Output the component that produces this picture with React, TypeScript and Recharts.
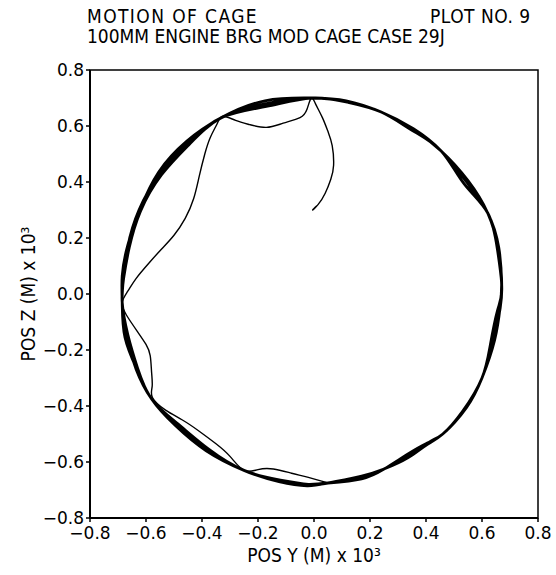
import { LineChart, Line, XAxis, YAxis, ReferenceArea } from "recharts";

const axisTicks = [-0.8, -0.6, -0.4, -0.2, 0, 0.2, 0.4, 0.6, 0.8];

// cage centre, [pos y, pos z] in m x 10^3
// first pass: from the start point up to the top, then round the left side
const startPath: [number, number][] = [
  [0.01, 0.315], [-0.005, 0.3], [0.015, 0.32], [0.04, 0.36], [0.06, 0.41], [0.07, 0.46],
  [0.065, 0.53], [0.05, 0.58], [0.03, 0.63], [0.005, 0.68], [-0.01, 0.7],
  [-0.025, 0.66], [-0.05, 0.63], [-0.11, 0.61], [-0.17, 0.595], [-0.23, 0.605],
  [-0.28, 0.62], [-0.325, 0.635], [-0.345, 0.61], [-0.37, 0.56], [-0.39, 0.5],
  [-0.41, 0.42], [-0.43, 0.34], [-0.46, 0.27], [-0.5, 0.21], [-0.545, 0.16],
  [-0.59, 0.11], [-0.635, 0.056], [-0.665, 0.01], [-0.685, -0.03],
  [-0.67, -0.075], [-0.63, -0.135], [-0.6, -0.18], [-0.585, -0.22], [-0.58, -0.28],
  [-0.578, -0.33], [-0.577, -0.37], [-0.53, -0.415], [-0.47, -0.45], [-0.41, -0.49],
  [-0.35, -0.535], [-0.3, -0.58], [-0.25, -0.63], [-0.2, -0.627], [-0.145, -0.625],
  [-0.08, -0.64], [-0.02, -0.655], [0.05, -0.675],
];

// steady whirl, three turns
const orbit1: [number, number][] = [
  [0.05, -0.675], [0.17, -0.66], [0.25, -0.625], [0.33, -0.575], [0.4, -0.535], [0.46, -0.5],
  [0.54, -0.41], [0.6, -0.3], [0.64, -0.17], [0.665, -0.05], [0.67, 0.04], [0.655, 0.16],
  [0.62, 0.29], [0.535, 0.395], [0.455, 0.51], [0.35, 0.585], [0.24, 0.65], [0.12, 0.685],
  [-0.01, 0.7], [-0.17, 0.67], [-0.33, 0.63], [-0.45, 0.54], [-0.55, 0.43], [-0.625, 0.3],
  [-0.665, 0.17], [-0.68, 0.06], [-0.685, -0.03], [-0.67, -0.15], [-0.635, -0.27],
  [-0.58, -0.375], [-0.49, -0.47], [-0.38, -0.555], [-0.25, -0.63], [-0.12, -0.665],
  [-0.02, -0.68], [0.05, -0.675],
];
const orbit2: [number, number][] = [
  [0.16, -0.655], [0.25, -0.625], [0.34, -0.58], [0.41, -0.53], [0.46, -0.5], [0.53, -0.42],
  [0.6, -0.3], [0.63, -0.18], [0.655, -0.06], [0.67, 0.01], [0.66, 0.15], [0.62, 0.29],
  [0.55, 0.405], [0.455, 0.51], [0.345, 0.595], [0.24, 0.65], [0.115, 0.69], [-0.01, 0.7],
  [-0.175, 0.69], [-0.33, 0.63], [-0.455, 0.545], [-0.555, 0.435], [-0.62, 0.305],
  [-0.665, 0.175], [-0.685, 0.065], [-0.685, -0.03], [-0.675, -0.155], [-0.63, -0.275],
  [-0.58, -0.375], [-0.495, -0.47], [-0.385, -0.56], [-0.25, -0.63], [-0.125, -0.67],
  [-0.025, -0.685], [0.05, -0.675],
];
const orbit3: [number, number][] = [
  [0.17, -0.65], [0.25, -0.625], [0.335, -0.585], [0.4, -0.54], [0.46, -0.5], [0.545, -0.405],
  [0.6, -0.3], [0.645, -0.165], [0.665, -0.045], [0.67, 0.035], [0.66, 0.165], [0.62, 0.29],
  [0.545, 0.4], [0.455, 0.51], [0.355, 0.59], [0.24, 0.65], [0.125, 0.685], [-0.01, 0.7],
  [-0.17, 0.68], [-0.33, 0.63], [-0.445, 0.535], [-0.545, 0.425], [-0.62, 0.295],
  [-0.66, 0.165], [-0.68, 0.055], [-0.685, -0.03], [-0.665, -0.145], [-0.63, -0.265],
  [-0.58, -0.375], [-0.485, -0.465], [-0.375, -0.555], [-0.25, -0.63], [-0.115, -0.67],
  [-0.015, -0.68], [0.05, -0.675],
];

const toRows = (pts: [number, number][]) => pts.map(([y, z]) => ({ y, z }));
const startRows = toRows(startPath);
const orbitRows = toRows([...orbit1, ...orbit2, ...orbit3]);

const font = "'DejaVu Sans', sans-serif";
const titleFont = "'DejaVu Sans Condensed', 'DejaVu Sans', sans-serif";

function fmtTick(v: number): string {
  return v.toFixed(1).replace("-", "\u2212");
}

const titleStyle: React.CSSProperties = {
  position: "absolute",
  fontFamily: titleFont,
  fontSize: 19,
  lineHeight: 1,
  color: "#000",
  whiteSpace: "nowrap",
};

export default function App() {
  return (
    <div style={{ position: "absolute", left: 0, top: 0, width: 556, height: 575, background: "#fff" }}>
      <div style={{ ...titleStyle, left: 87, top: 7, letterSpacing: 1.4 }}>MOTION OF CAGE</div>
      <div style={{ ...titleStyle, left: 430, top: 7, letterSpacing: 0.5 }}>PLOT NO. 9</div>
      <div style={{ ...titleStyle, left: 87, top: 27 }}>100MM ENGINE BRG MOD CAGE CASE 29J</div>
      <LineChart width={556} height={575} margin={{ top: 70, right: 18, bottom: 13, left: 0 }}>
        <XAxis
          type="number"
          dataKey="y"
          domain={[-0.8, 0.8]}
          ticks={axisTicks}
          tickFormatter={fmtTick}
          allowDataOverflow
          height={44}
          tickSize={4}
          tickMargin={5}
          axisLine={{ stroke: "#000", strokeWidth: 2 }}
          tickLine={{ stroke: "#000", strokeWidth: 1.5 }}
          tick={{ fill: "#000", fontSize: 17, fontFamily: font }}
          label={{
            value: "POS Y (M) x 10\u00b3",
            position: "insideBottom",
            offset: 0,
            fill: "#000",
            fontSize: 19,
            fontFamily: titleFont,
          }}
        />
        <YAxis
          type="number"
          dataKey="z"
          domain={[-0.8, 0.8]}
          ticks={axisTicks}
          tickFormatter={fmtTick}
          allowDataOverflow
          width={90}
          tickSize={4}
          axisLine={{ stroke: "#000", strokeWidth: 2 }}
          tickLine={{ stroke: "#000", strokeWidth: 1.5 }}
          tick={{ fill: "#000", fontSize: 17, fontFamily: font }}
          label={{
            value: "POS Z (M) x 10\u00b3",
            angle: -90,
            position: "insideLeft",
            offset: 28,
            fill: "#000",
            fontSize: 19,
            fontFamily: titleFont,
            style: { textAnchor: "middle" },
          }}
        />
        <ReferenceArea
          x1={-0.8}
          x2={0.8}
          y1={-0.8}
          y2={0.8}
          fill="none"
          fillOpacity={0}
          stroke="#000"
          strokeWidth={1.5}
        />
        <Line
          data={startRows}
          dataKey="z"
          type="natural"
          dot={false}
          stroke="#000"
          strokeWidth={1.4}
          isAnimationActive={false}
        />
        <Line
          data={orbitRows}
          dataKey="z"
          type="natural"
          dot={false}
          stroke="#000"
          strokeWidth={2.8}
          strokeLinejoin="round"
          isAnimationActive={false}
        />
      </LineChart>
    </div>
  );
}
